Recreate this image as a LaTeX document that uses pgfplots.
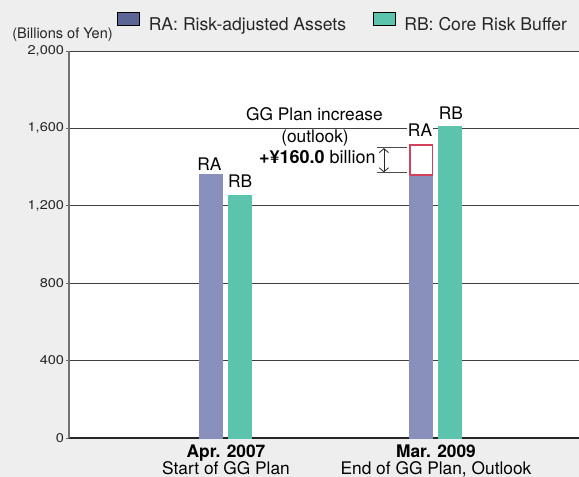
\documentclass[border=0pt]{standalone}
\usepackage{pgfplots}
\pgfplotsset{compat=1.18}
\usepackage{fontspec}
\setmainfont{TeX Gyre Heros}
\newfontfamily\tickfont{TeX Gyre Heros}[FakeStretch=1.15]
\usetikzlibrary{arrows.meta}
\definecolor{bg}{HTML}{EEEEEE}
\definecolor{raBar}{HTML}{8890BB}
\definecolor{rbBar}{HTML}{5CC4AC}
\definecolor{raLeg}{HTML}{5C6696}
\definecolor{rbLeg}{HTML}{5CC4AC}
\definecolor{redBox}{HTML}{D2425E}
\begin{document}
\begin{tikzpicture}
\fill[bg] (0pt,0pt) rectangle (434.25pt,357.75pt);
\begin{axis}[
  at={(51.75pt,29.25pt)}, anchor=south west,
  scale only axis, width=382.5pt, height=290.25pt,
  xmin=-0.7476, xmax=1.681, ymin=0, ymax=2000,
  axis background/.style={fill=white},
  clip=false,
  axis x line*=bottom, axis y line*=left,
  x axis line style={-, draw=black!85, line width=0.8pt},
  y axis line style={-, draw=black!55, line width=0.8pt},
  ytick={0,400,800,1200,1600,2000},
  ymajorgrids, major grid style={draw=black!75, line width=0.6pt},
  yticklabel style={font=\tickfont\fontsize{9.5}{11}\selectfont, inner sep=1.5pt, text=black!85},
  /pgf/number format/assume math mode=true,
  /pgf/number format/1000 sep={,},
  y tick style={draw=black!60, line width=0.6pt},
  tick align=outside, major tick length=2pt,
  xtick={0,1}, x tick style={draw=none},
  xticklabels={{\textbf{Apr. 2007}\\Start of GG Plan},{\textbf{Mar. 2009}\\End of GG Plan, Outlook}},
  xticklabel style={align=center, font=\fontsize{13}{13}\selectfont, inner sep=2pt, yshift=-0.8pt},
  legend columns=2,
  legend image code/.code={\fill[#1] (0pt,0pt) rectangle (16.5pt,9.75pt);},
  legend style={at={(0.0941,1.075)}, anchor=west, draw=none, fill=none, inner sep=0pt,
    font=\fontsize{13.2}{15}\selectfont, nodes={inner sep=0pt, text=black!85},
    /tikz/every odd column/.style={column sep=6.75pt},
    /tikz/every even column/.style={column sep=20pt}},
]
\addlegendimage{fill=raLeg}
\addlegendentry{RA: Risk-adjusted Assets}
\addlegendimage{fill=rbLeg}
\addlegendentry{RB: Core Risk Buffer}

% GG Plan increase (outlook) box for RA at Mar. 2009: 1355 + 160 = 1515
\addplot[forget plot, ybar, bar width=17pt, bar shift=-11pt, fill=white, draw=redBox, line width=1.1pt] coordinates {(1,1515)};
\addplot[forget plot, ybar, bar width=17pt, bar shift=-11pt, fill=raBar, draw=raBar, line width=1.1pt] coordinates {(0,1360) (1,1355)};
\addplot[forget plot, ybar, bar width=17pt, bar shift=10.5pt, fill=rbBar, draw=rbBar, line width=1.1pt] coordinates {(0,1250) (1,1610)};
\addplot[forget plot, sharp plot, mark=none, draw=redBox, line width=1.1pt] coordinates {(0.8762,1358) (0.9842,1358)};

\node[anchor=base, fill=white, inner xsep=1pt, inner ysep=1pt, font=\fontsize{13}{14}\selectfont] at (axis cs:-0.079,1381) {RA};
\node[anchor=base, fill=white, inner xsep=1pt, inner ysep=1pt, font=\fontsize{13}{14}\selectfont] at (axis cs:0.067,1292) {RB};
\node[anchor=base, fill=white, inner xsep=1pt, inner ysep=1pt, font=\fontsize{13}{14}\selectfont] at (axis cs:0.924,1557) {RA};
\node[anchor=base, fill=white, inner xsep=1pt, inner ysep=1pt, font=\fontsize{13}{14}\selectfont] at (axis cs:1.071,1647) {RB};
\node[anchor=base, fill=white, inner xsep=1pt, inner ysep=1pt, font=\fontsize{13}{14}\selectfont] at (axis cs:0.421,1643) {GG Plan increase};
\node[anchor=base, fill=white, inner xsep=5pt, inner ysep=1pt, font=\fontsize{13}{14}\selectfont] at (axis cs:0.424,1526) {(outlook)};
\node[anchor=base east, inner sep=0pt, font=\fontsize{13.5}{14}\selectfont] at (axis cs:0.714,1416) {\textbf{+¥160.0} billion};
\draw[black!70, line width=0.6pt] (axis cs:0.719,1500) -- (axis cs:0.862,1500);
\draw[black!70, line width=0.6pt] (axis cs:0.719,1371) -- (axis cs:0.862,1371);
\draw[black!85, line width=0.6pt, {Straight Barb[length=3pt,width=7pt]}-{Straight Barb[length=3pt,width=7pt]}] (axis cs:0.752,1373) -- (axis cs:0.752,1498);
\node[anchor=base east, inner sep=0pt, font=\fontsize{10.9}{12}\selectfont, text=black!85] at (rel axis cs:0.0863,1.0323) {(Billions of Yen)};
\end{axis}
\pgfresetboundingbox
\useasboundingbox (0pt,0pt) rectangle (434.25pt,357.75pt);
\end{tikzpicture}
\end{document}
